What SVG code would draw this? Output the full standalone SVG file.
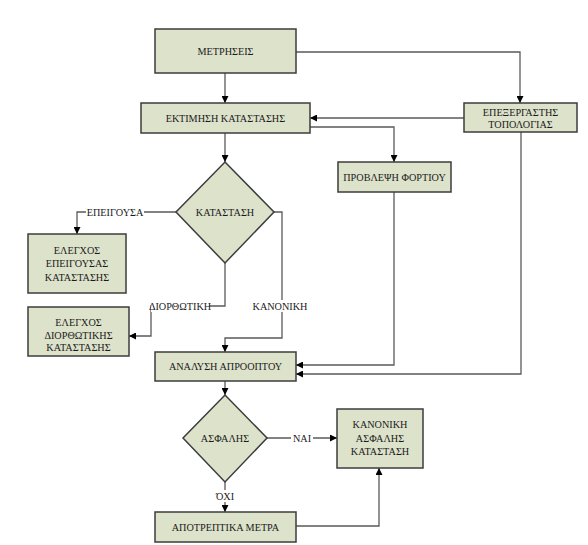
<svg xmlns="http://www.w3.org/2000/svg" width="588" height="545" viewBox="0 0 588 545">
<style>
.box{fill:#dde2cb;stroke:#3c3c3c;stroke-width:1.5}
.t{font-family:"Liberation Serif","Times New Roman",serif;font-size:10.2px;fill:#1a1a1a;text-anchor:middle;dominant-baseline:central}
.c{fill:none;stroke:#5a5a5a;stroke-width:1.3}
.lb{fill:#ffffff}
</style>
<defs>
<marker id="a" viewBox="0 0 10 10" refX="10" refY="5" markerWidth="7" markerHeight="7" markerUnits="userSpaceOnUse" orient="auto">
<path d="M0,0 L10,5 L0,10 z" fill="#000"/>
</marker>
</defs>
<rect width="588" height="545" fill="#fff"/>
<g id="connectors">
<path class="c" d="M225,73 V103" marker-end="url(#a)"/>
<path class="c" d="M296,52 H520 V103" marker-end="url(#a)"/>
<path class="c" d="M464,118 H310" marker-end="url(#a)"/>
<path class="c" d="M310,127 H394 V162" marker-end="url(#a)"/>
<path class="c" d="M225,133 V162" marker-end="url(#a)"/>
<path class="c" d="M176,212 H77 V234" marker-end="url(#a)"/>
<path class="c" d="M225,263 V306 H151 V336 H129" marker-end="url(#a)"/>
<path class="c" d="M274,212 H282 V338 H225 V352" marker-end="url(#a)"/>
<path class="c" d="M394,192 V365 H296" marker-end="url(#a)"/>
<path class="c" d="M521,132 V374 H296" marker-end="url(#a)"/>
<path class="c" d="M225,381 V395" marker-end="url(#a)"/>
<path class="c" d="M267,438 H337" marker-end="url(#a)"/>
<path class="c" d="M225,482 V512" marker-end="url(#a)"/>
<path class="c" d="M296,526 H379 V468" marker-end="url(#a)"/>
<rect class="lb" x="86" y="206" width="58" height="12"/>
<text class="t" x="115" y="212">ΕΠΕΙΓΟΥΣΑ</text>
<rect class="lb" x="151" y="300" width="58" height="12"/>
<text class="t" x="180" y="306">ΔΙΟΡΘΩΤΙΚΗ</text>
<rect class="lb" x="253" y="300" width="55" height="12"/>
<text class="t" x="280" y="306">ΚΑΝΟΝΙΚΗ</text>
<rect class="lb" x="291" y="432" width="22" height="12"/>
<text class="t" x="302" y="438">ΝΑΙ</text>
<rect class="lb" x="213" y="490" width="24" height="12"/>
<text class="t" x="225" y="496">ΌΧΙ</text>
</g>
<g id="n1"><rect class="box" x="155" y="29" width="141" height="44"/><text class="t" x="225.5" y="51">ΜΕΤΡΗΣΕΙΣ</text></g>
<g id="n2"><rect class="box" x="141" y="103" width="169" height="30"/><text class="t" x="225.5" y="118">ΕΚΤΙΜΗΣΗ ΚΑΤΑΣΤΑΣΗΣ</text></g>
<g id="n3"><rect class="box" x="464" y="103" width="113" height="29"/><text class="t" x="520.5" y="112.5">ΕΠΕΞΕΡΓΑΣΤΗΣ</text><text class="t" x="520.5" y="124">ΤΟΠΟΛΟΓΙΑΣ</text></g>
<g id="n4"><rect class="box" x="338" y="162" width="113" height="30"/><text class="t" x="394.5" y="177">ΠΡΟΒΛΕΨΗ ΦΟΡΤΙΟΥ</text></g>
<g id="n5"><path class="box" d="M225,162 L274,212 L225,263 L176,212 Z"/><text class="t" x="225" y="212">ΚΑΤΑΣΤΑΣΗ</text></g>
<g id="n6"><rect class="box" x="28" y="234" width="98" height="59"/><text class="t" x="77" y="250">ΕΛΕΓΧΟΣ</text><text class="t" x="77" y="263.5">ΕΠΕΙΓΟΥΣΑΣ</text><text class="t" x="77" y="277">ΚΑΤΑΣΤΑΣΗΣ</text></g>
<g id="n7"><rect class="box" x="28" y="307" width="101" height="49"/><text class="t" x="78.5" y="322.5">ΕΛΕΓΧΟΣ</text><text class="t" x="78.5" y="335">ΔΙΟΡΘΩΤΙΚΗΣ</text><text class="t" x="78.5" y="347">ΚΑΤΑΣΤΑΣΗΣ</text></g>
<g id="n8"><rect class="box" x="155" y="352" width="141" height="29"/><text class="t" x="225.5" y="366.5">ΑΝΑΛΥΣΗ ΑΠΡΟΟΠΤΟΥ</text></g>
<g id="n9"><path class="box" d="M225,395 L267,438 L225,482 L183,438 Z"/><text class="t" x="225" y="438">ΑΣΦΑΛΗΣ</text></g>
<g id="n10"><rect class="box" x="337" y="409" width="86" height="59"/><text class="t" x="380" y="424">ΚΑΝΟΝΙΚΗ</text><text class="t" x="380" y="438">ΑΣΦΑΛΗΣ</text><text class="t" x="380" y="451">ΚΑΤΑΣΤΑΣΗ</text></g>
<g id="n11"><rect class="box" x="155" y="512" width="141" height="30"/><text class="t" x="225.5" y="527">ΑΠΟΤΡΕΠΤΙΚΑ ΜΕΤΡΑ</text></g>
</svg>
